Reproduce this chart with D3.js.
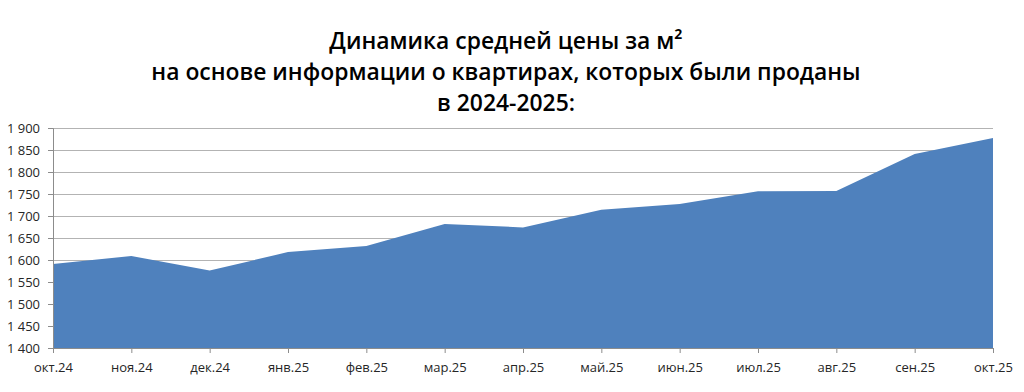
<!DOCTYPE html>
<html><head><meta charset="utf-8">
<script src="https://cdn.jsdelivr.net/npm/d3@7"></script>
<style>body{margin:0;background:#fff}svg{display:block}</style>
</head><body>
<svg id="c" width="1024" height="392"></svg>
<script>
const categories = ["окт.24","ноя.24","дек.24","янв.25","фев.25","мар.25","апр.25","май.25","июн.25","июл.25","авг.25","сен.25","окт.25"];
const values = [1591,1609,1576,1618,1632,1682,1674,1714,1727,1756,1757,1841,1877];
const yTicks = [1400,1450,1500,1550,1600,1650,1700,1750,1800,1850,1900];
const titleLines = ["Динамика средней цены за м²","на основе информации о квартирах, которых были проданы","в 2024-2025:"];

const svg = d3.select("#c");
const m = {left:53, right:1024-993, top:128, bottom:392-348};
const W = 1024, H = 392;
const x = d3.scalePoint().domain(categories).range([m.left, W-m.right]);
const y = d3.scaleLinear().domain([1400,1900]).range([H-m.bottom, m.top]);
const fmt = d3.formatLocale({decimal:",",thousands:" ",grouping:[3],currency:["",""]}).format(",");

// gridlines
svg.append("g").selectAll("line").data(yTicks.filter(d=>d>1400)).join("line")
  .attr("x1",m.left).attr("x2",W-m.right)
  .attr("y1",d=>y(d)+0.5).attr("y2",d=>y(d)+0.5)
  .attr("stroke","#b3b3b3").attr("stroke-width",1.2);

// area
const data = categories.map((c,i)=>({c,v:values[i]}));
svg.append("path").datum(data)
  .attr("d", d3.area().x(d=>x(d.c)).y0(y(1400)).y1(d=>y(d.v)))
  .attr("fill","#4f81bd");

// y axis
const ya = svg.append("g").attr("transform",`translate(${m.left},0)`)
  .call(d3.axisLeft(y).tickValues(yTicks).tickFormat(fmt).tickSize(5).tickPadding(8));
ya.select(".domain").attr("stroke","#8c8c8c");
ya.selectAll(".tick line").attr("stroke","#8c8c8c");
ya.selectAll("text").attr("font-family","'Open Sans', sans-serif").attr("font-size",13).attr("fill","#262626");

// x axis
const xa = svg.append("g").attr("transform",`translate(0,${y(1400)})`)
  .call(d3.axisBottom(x).tickSize(5).tickPadding(10));
xa.select(".domain").attr("stroke","#8c8c8c");
xa.selectAll(".tick line").attr("stroke","#8c8c8c");
xa.selectAll("text").attr("font-family","'Open Sans', sans-serif").attr("font-size",13).attr("fill","#262626");

// title
const baselines = [49, 80, 111];
const tl = svg.append("g");
titleLines.forEach((t,i)=>{
  tl.append("text").text(t)
    .attr("x",506).attr("y",baselines[i]).attr("text-anchor","middle")
    .attr("font-family","'Open Sans', sans-serif").attr("font-weight",600)
    .attr("font-size",21).attr("fill","#000");
});
const w = tl.selectAll("text").nodes()[1].getComputedTextLength();
tl.selectAll("text").attr("font-size", 21*710/w);
</script>
</body></html>
